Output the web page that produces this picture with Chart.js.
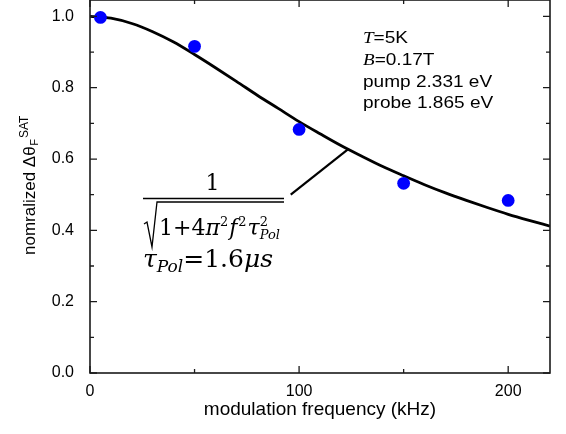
<!DOCTYPE html>
<html>
<head>
<meta charset="utf-8">
<script src="https://cdn.jsdelivr.net/npm/chart.js@4"></script>
<style>
    html, body { margin: 0; padding: 0; background: #fff; }
    canvas { display: block; }
</style>
</head>
<body>
<canvas id="chart" width="566" height="434"></canvas>
<script>
// measured points
const freqKHz = [5, 50, 100, 150, 200];
const signal = [0.997, 0.916, 0.683, 0.532, 0.484];

// fit curve
const fitFreq = [0, 10, 20, 30, 40, 50, 60, 70, 80, 90, 100, 110, 120, 130, 140, 150, 160, 170, 180, 190, 200, 210, 220];
const fitValue = [1.0, 0.995, 0.98, 0.957, 0.928, 0.893, 0.856, 0.818, 0.779, 0.742, 0.705, 0.671, 0.638, 0.608, 0.579, 0.553, 0.528, 0.505, 0.484, 0.464, 0.445, 0.428, 0.412];

const xMajorTicks = [0, 100, 200];
const xMinorTicks = [50, 150];
const yMajorTicks = [0, 0.2, 0.4, 0.6, 0.8, 1.0];
const yMinorTicks = [0.1, 0.3, 0.5, 0.7, 0.9];

const SANS = '"Liberation Sans", Arial, sans-serif';
const SERIF = '"Liberation Serif", "Times New Roman", serif';
const MATH = '"DejaVu Serif", serif';
const AXIS_COLOR = '#1a1a1a';

// draws a row of text pieces, each with its own font and vertical shift
function drawRuns(ctx, x, y, runs) {
    runs.forEach((run) => {
        ctx.font = run.font;
        ctx.fillText(run.text, x, y + (run.dy || 0));
        if (!run.noAdvance) {
            x += ctx.measureText(run.text).width + (run.gap || 0);
        }
    });
    return x;
}

const framePlugin = {
    id: 'frame',
    afterDraw(chart) {
        const { ctx, chartArea: area } = chart;
        const xs = chart.scales.x;
        const ys = chart.scales.y;

        ctx.save();
        ctx.strokeStyle = AXIS_COLOR;
        ctx.lineWidth = 1.6;
        ctx.strokeRect(area.left, area.top, area.right - area.left, area.bottom - area.top);

        ctx.lineWidth = 1.3;
        ctx.beginPath();
        const xTick = (v, len) => {
            const px = xs.getPixelForValue(v);
            ctx.moveTo(px, area.bottom);
            ctx.lineTo(px, area.bottom - len);
            ctx.moveTo(px, area.top);
            ctx.lineTo(px, area.top + len);
        };
        const yTick = (v, len) => {
            const py = ys.getPixelForValue(v);
            ctx.moveTo(area.left, py);
            ctx.lineTo(area.left + len, py);
            ctx.moveTo(area.right, py);
            ctx.lineTo(area.right - len, py);
        };
        xMajorTicks.forEach((v) => xTick(v, 7));
        xMinorTicks.forEach((v) => xTick(v, 4));
        yMajorTicks.forEach((v) => yTick(v, 7));
        yMinorTicks.forEach((v) => yTick(v, 4));
        ctx.stroke();

        // pointer from the formula to the curve
        ctx.lineWidth = 2.2;
        ctx.strokeStyle = '#000';
        ctx.beginPath();
        ctx.moveTo(xs.getPixelForValue(96), ys.getPixelForValue(0.5));
        ctx.lineTo(xs.getPixelForValue(123.5), ys.getPixelForValue(0.628));
        ctx.stroke();

        ctx.fillStyle = '#000';
        ctx.textBaseline = 'alphabetic';
        ctx.textAlign = 'left';

        // conditions block, slightly widened like the original
        ctx.save();
        ctx.translate(363, 0);
        ctx.scale(1.12, 1);
        drawRuns(ctx, 0, 43, [
            { text: 'T', font: `italic 17px ${SERIF}` },
            { text: '=5K', font: `17px ${SANS}` },
        ]);
        drawRuns(ctx, 0, 65, [
            { text: 'B', font: `italic 17px ${SERIF}` },
            { text: '=0.17T', font: `17px ${SANS}` },
        ]);
        ctx.font = `17px ${SANS}`;
        ctx.fillText('pump 2.331 eV', 0, 87);
        ctx.fillText('probe 1.865 eV', 0, 108);
        ctx.restore();

        // formula
        const fx = 143;
        const fr = 284;
        ctx.font = `22px ${MATH}`;
        ctx.textAlign = 'center';
        ctx.fillText('1', (fx + fr) / 2 - 1, 190);
        ctx.textAlign = 'left';
        ctx.lineWidth = 1.3;
        ctx.beginPath();
        ctx.moveTo(fx, 198.5);
        ctx.lineTo(fr, 198.5);
        ctx.stroke();

        // radical sign
        ctx.lineWidth = 1.3;
        ctx.beginPath();
        ctx.moveTo(fx + 1, 224);
        ctx.lineTo(fx + 4, 222);
        ctx.lineTo(fx + 9, 247);
        ctx.lineTo(fx + 14, 202);
        ctx.lineTo(fr, 202);
        ctx.stroke();

        const cx = drawRuns(ctx, fx + 16, 235, [
            { text: '1+4', font: `22px ${MATH}` },
            { text: 'π', font: `italic 22px ${MATH}` },
            { text: '2', font: `13px ${MATH}`, dy: -9, gap: 1 },
            { text: 'f', font: `italic 22px ${MATH}`, gap: 1 },
            { text: '2', font: `13px ${MATH}`, dy: -9, gap: 1 },
            { text: 'τ', font: `italic 22px ${MATH}` },
        ]);
        drawRuns(ctx, cx, 235, [
            { text: '2', font: `13px ${MATH}`, dy: -9, noAdvance: true },
            { text: 'Pol', font: `italic 13px ${MATH}`, dy: 4 },
        ]);

        drawRuns(ctx, fx, 267, [
            { text: 'τ', font: `italic 25px ${MATH}` },
            { text: 'Pol', font: `italic 17px ${MATH}`, dy: 5 },
            { text: '=1.6', font: `25px ${MATH}` },
            { text: 'μs', font: `italic 25px ${MATH}` },
        ]);

        // y axis title, rotated
        ctx.save();
        ctx.translate(35, 255);
        ctx.rotate(-Math.PI / 2);
        ctx.fillStyle = '#000';
        drawRuns(ctx, 0, 0, [
            { text: 'nomralized Δθ', font: `17px ${SANS}`, gap: 0.5 },
            { text: 'F', font: `11px ${SANS}`, dy: 3, gap: 1 },
            { text: 'SAT', font: `12px ${SANS}`, dy: -7 },
        ]);
        ctx.restore();

        ctx.restore();
    },
};

new Chart(document.getElementById('chart'), {
    type: 'scatter',
    data: {
        datasets: [
            {
                type: 'line',
                data: fitFreq.map((f, i) => ({ x: f, y: fitValue[i] })),
                borderColor: '#000',
                borderWidth: 2.8,
                pointRadius: 0,
                cubicInterpolationMode: 'monotone',
                fill: false,
                order: 2,
            },
            {
                data: freqKHz.map((f, i) => ({ x: f, y: signal[i] })),
                backgroundColor: '#0000ff',
                borderWidth: 0,
                pointRadius: 6.4,
                order: 1,
            },
        ],
    },
    options: {
        responsive: false,
        animation: false,
        devicePixelRatio: 1,
        layout: { autoPadding: false, padding: { left: 0, right: 16, top: 0, bottom: 0 } },
        plugins: {
            legend: { display: false },
            tooltip: { enabled: false },
        },
        scales: {
            x: {
                type: 'linear',
                min: 0,
                max: 220,
                grid: { display: false },
                border: { display: false },
                afterBuildTicks: (scale) => {
                    scale.ticks = xMajorTicks.map((v) => ({ value: v }));
                },
                afterFit: (scale) => {
                    scale.height = 61;
                    scale.paddingLeft = 0;
                    scale.paddingRight = 0;
                },
                ticks: {
                    color: '#000',
                    font: { family: SANS, size: 16 },
                    padding: 1,
                    maxRotation: 0,
                    callback: (v) => String(v),
                },
                title: {
                    display: true,
                    text: 'modulation frequency (kHz)',
                    color: '#000',
                    font: { family: SANS, size: 19 },
                    padding: { top: 0, bottom: 13 },
                },
            },
            y: {
                type: 'linear',
                min: 0,
                max: 1.046,
                grid: { display: false },
                border: { display: false },
                afterBuildTicks: (scale) => {
                    scale.ticks = yMajorTicks.map((v) => ({ value: v }));
                },
                afterFit: (scale) => {
                    scale.width = 90;
                    scale.paddingTop = 0;
                    scale.paddingBottom = 0;
                },
                ticks: {
                    color: '#000',
                    font: { family: SANS, size: 16 },
                    padding: 8,
                    callback: (v) => v.toFixed(1),
                },
            },
        },
    },
    plugins: [framePlugin],
});
</script>
</body>
</html>
